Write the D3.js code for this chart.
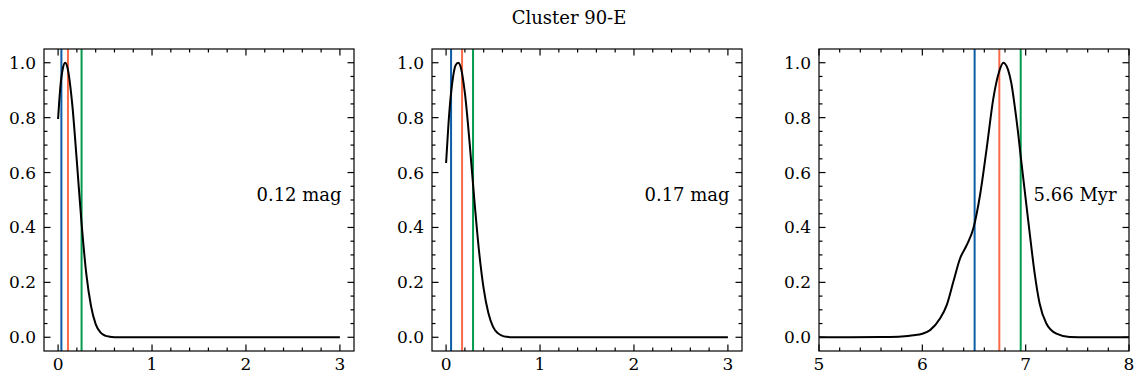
<!DOCTYPE html>
<html>
<head>
<meta charset="utf-8">
<script src="https://cdn.jsdelivr.net/npm/d3@7"></script>
<style>
  html, body { margin: 0; padding: 0; background: #ffffff; }
  svg { display: block; }
  text { font-family: "DejaVu Serif", serif; fill: #000; }
</style>
</head>
<body>
<svg id="chart" width="1144" height="384"></svg>
<script>
// ---------- data ----------
const title = "Cluster 90-E";

const curve1X = [0.0, 0.025, 0.05, 0.075, 0.1, 0.15, 0.2, 0.25, 0.3, 0.35, 0.4, 0.45, 0.5, 0.55, 0.6, 0.7, 0.8, 1.0, 1.5, 2.0, 2.5, 3.0];
const curve1Y = [0.795, 0.915, 0.978, 1.0, 0.982, 0.851, 0.639, 0.415, 0.232, 0.115, 0.048, 0.018, 0.006, 0.002, 0.0005, 0.0, 0.0, 0.0, 0.0, 0.0, 0.0, 0.0];

const curve2X = [0.0, 0.025, 0.05, 0.075, 0.1, 0.13, 0.15, 0.2, 0.25, 0.3, 0.35, 0.4, 0.45, 0.5, 0.55, 0.6, 0.65, 0.7, 0.8, 1.0, 1.5, 2.0, 2.5, 3.0];
const curve2Y = [0.635, 0.775, 0.88, 0.95, 0.99, 1.0, 0.99, 0.89, 0.71, 0.503, 0.316, 0.177, 0.088, 0.038, 0.015, 0.005, 0.0016, 0.0, 0.0, 0.0, 0.0, 0.0, 0.0, 0.0];

const curve3X = [5.0, 5.3, 5.6, 5.8, 5.913, 6.0, 6.075, 6.171, 6.236, 6.30, 6.365, 6.43, 6.494, 6.559, 6.623, 6.688, 6.745, 6.784, 6.829, 6.861, 6.894, 6.926, 6.952, 6.99, 7.039, 7.087, 7.135, 7.2, 7.297, 7.426, 7.6, 8.0];
const curve3Y = [0.0, 0.0, 0.001, 0.003, 0.007, 0.013, 0.026, 0.068, 0.117, 0.202, 0.287, 0.336, 0.397, 0.519, 0.689, 0.872, 0.97, 1.0, 0.975, 0.926, 0.842, 0.747, 0.659, 0.537, 0.379, 0.233, 0.123, 0.05, 0.013, 0.001, 0.0, 0.0];

const vlinesValues = [[0.035, 0.105, 0.25], [0.053, 0.17, 0.287], [6.506, 6.745, 6.952]];
const vlineColors = ["#0C5DA5", "#FA6A48", "#039A4E"];
const annotations = ["0.12 mag", "0.17 mag", "5.66 Myr"];

const xDomains = [[-0.15, 3.15], [-0.15, 3.15], [5, 8]];
const xMajorTicks = [[0, 1, 2, 3], [0, 1, 2, 3], [5, 6, 7, 8]];
const yDomain = [-0.05, 1.05];
const yMajorTicks = [0.0, 0.2, 0.4, 0.6, 0.8, 1.0];

// ---------- layout ----------
const panelLefts = [44, 432, 819];
const panelW = 310, panelTop = 49, panelH = 302;
const majorLen = 6.5, minorLen = 3.5;

const svg = d3.select("#chart");

svg.append("text")
  .attr("x", 569).attr("y", 24)
  .attr("text-anchor", "middle")
  .style("font-size", "18px")
  .text(title);

const curves = [
  {x: curve1X, y: curve1Y},
  {x: curve2X, y: curve2Y},
  {x: curve3X, y: curve3Y}
];

function minorTicks(domain, step) {
  const out = [];
  const start = Math.ceil(domain[0] / step - 1e-9);
  const end = Math.floor(domain[1] / step + 1e-9);
  for (let i = start; i <= end; i++) {
    const v = +(i * step).toFixed(6);
    if (v > domain[0] + 1e-9 && v < domain[1] - 1e-9) out.push(v);
  }
  return out;
}

curves.forEach((c, i) => {
  const g = svg.append("g").attr("transform", `translate(${panelLefts[i]},${panelTop})`);
  const x = d3.scaleLinear().domain(xDomains[i]).range([0, panelW]);
  const y = d3.scaleLinear().domain(yDomain).range([panelH, 0]);

  const clipId = "clip" + i;
  g.append("clipPath").attr("id", clipId)
    .append("rect").attr("width", panelW).attr("height", panelH);

  const plot = g.append("g").attr("clip-path", `url(#${clipId})`);

  vlinesValues[i].forEach((v, k) => {
    plot.append("line")
      .attr("x1", x(v)).attr("x2", x(v))
      .attr("y1", 0).attr("y2", panelH)
      .attr("stroke", vlineColors[k])
      .attr("stroke-width", 2);
  });

  const pts = c.x.map((xv, j) => [xv, c.y[j]]);
  plot.append("path")
    .datum(pts)
    .attr("fill", "none")
    .attr("stroke", "#000")
    .attr("stroke-width", 2)
    .attr("stroke-linejoin", "round")
    .attr("d", d3.line().x(d => x(d[0])).y(d => y(d[1])).curve(d3.curveMonotoneX));

  g.append("text")
    .attr("x", panelW * 0.96)
    .attr("y", y(0.5) + 1)
    .attr("text-anchor", "end")
    .style("font-size", "18px")
    .text(annotations[i]);

  const xMinor = minorTicks(xDomains[i], 0.2).filter(v => !xMajorTicks[i].some(m => Math.abs(m - v) < 1e-6));
  const yMinor = minorTicks(yDomain, 0.05).filter(v => !yMajorTicks.some(m => Math.abs(m - v) < 1e-6));

  const tg = g.append("g").attr("stroke", "#000").attr("stroke-width", 1.2);
  xMajorTicks[i].forEach(v => {
    tg.append("line").attr("x1", x(v)).attr("x2", x(v)).attr("y1", panelH).attr("y2", panelH - majorLen);
    tg.append("line").attr("x1", x(v)).attr("x2", x(v)).attr("y1", 0).attr("y2", majorLen);
  });
  xMinor.forEach(v => {
    tg.append("line").attr("x1", x(v)).attr("x2", x(v)).attr("y1", panelH).attr("y2", panelH - minorLen);
    tg.append("line").attr("x1", x(v)).attr("x2", x(v)).attr("y1", 0).attr("y2", minorLen);
  });
  yMajorTicks.forEach(v => {
    tg.append("line").attr("x1", 0).attr("x2", majorLen).attr("y1", y(v)).attr("y2", y(v));
    tg.append("line").attr("x1", panelW).attr("x2", panelW - majorLen).attr("y1", y(v)).attr("y2", y(v));
  });
  yMinor.forEach(v => {
    tg.append("line").attr("x1", 0).attr("x2", minorLen).attr("y1", y(v)).attr("y2", y(v));
    tg.append("line").attr("x1", panelW).attr("x2", panelW - minorLen).attr("y1", y(v)).attr("y2", y(v));
  });

  xMajorTicks[i].forEach(v => {
    g.append("text")
      .attr("x", x(v)).attr("y", panelH + 19)
      .attr("text-anchor", "middle")
      .style("font-size", "17px")
      .text(d3.format("d")(v));
  });
  yMajorTicks.forEach(v => {
    g.append("text")
      .attr("x", -8).attr("y", y(v) + 6)
      .attr("text-anchor", "end")
      .style("font-size", "17px")
      .text(d3.format(".1f")(v));
  });

  g.append("rect")
    .attr("width", panelW).attr("height", panelH)
    .attr("fill", "none").attr("stroke", "#000").attr("stroke-width", 1.2);
});
</script>
</body>
</html>
